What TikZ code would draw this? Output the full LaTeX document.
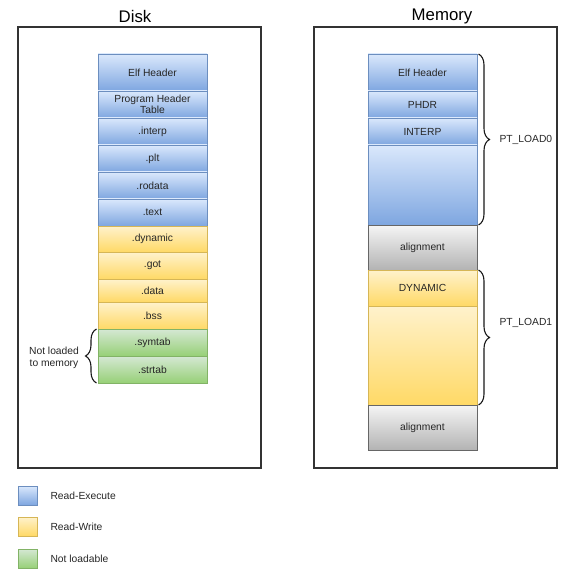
\documentclass[tikz,border=0pt]{standalone}
\usepackage{fontspec}
\setmainfont{Liberation Sans}
\usetikzlibrary{decorations.pathreplacing}
\definecolor{bluetop}{HTML}{DAE8FC}
\definecolor{bluebot}{HTML}{7EA6E0}
\definecolor{blueline}{HTML}{6C8EBF}
\definecolor{yeltop}{HTML}{FFF2CC}
\definecolor{yelbot}{HTML}{FFD966}
\definecolor{yelline}{HTML}{D6B656}
\definecolor{grntop}{HTML}{D5E8D4}
\definecolor{grnbot}{HTML}{97D077}
\definecolor{grnline}{HTML}{82B366}
\definecolor{graytop}{HTML}{F5F5F5}
\definecolor{graybot}{HTML}{B3B3B3}
\definecolor{grayline}{HTML}{666666}
\definecolor{frame}{HTML}{333333}
\begin{document}
\begin{tikzpicture}[x=1pt,y=-1pt,
  seg/.style={draw, line width=0.9pt, inner sep=0pt, outer sep=0pt, anchor=north west,
    minimum width=109pt, font=\fontsize{10.3}{11}\selectfont, align=center, text=black!85},
  rx/.style={seg, draw=blueline, top color=bluetop, bottom color=bluebot},
  rw/.style={seg, draw=yelline, top color=yeltop, bottom color=yelbot},
  nl/.style={seg, draw=grnline, top color=grntop, bottom color=grnbot},
  al/.style={seg, draw=grayline, top color=graytop, bottom color=graybot},
  outerbox/.style={draw=frame, line width=1.3pt, inner sep=0pt, outer sep=0pt, anchor=north west,
    minimum width=243pt, minimum height=441pt},
  title/.style={font=\fontsize{16.8}{19}\selectfont},
  lbl/.style={font=\fontsize{10.3}{12}\selectfont, text=black!85},
  brc/.style={decorate, decoration={brace, amplitude=11pt}, line width=1.1pt, draw=black!90},
  legsq/.style={draw, line width=0.9pt, inner sep=0pt, outer sep=0pt, anchor=north west,
    minimum width=19pt, minimum height=19pt}
]
\useasboundingbox (0,0) rectangle (580,577);

% titles and frames
\node[title] (tdisk) at (135,16) {Disk};
\node[title] (tmem) at (442,16) {Memory};
\node[outerbox] (diskbox) at (18,27) {};
\node[outerbox] (membox) at (314,27) {};

% disk segments
\node[rx, minimum height=37pt] (delf) at (98,54) {Elf Header};
\node[rx, minimum height=27pt] (dpht) at (98,91) {Program Header\\Table};
\node[rx, minimum height=27pt] (dinterp) at (98,118) {.interp};
\node[rx, minimum height=27pt] (dplt) at (98,145) {.plt};
\node[rx, minimum height=27pt] (drodata) at (98,172) {.rodata};
\node[rx, minimum height=27pt] (dtext) at (98,199) {.text};
\node[rw, minimum height=26pt] (ddyn) at (98,226) {.dynamic};
\node[rw, minimum height=27pt] (dgot) at (98,252) {.got};
\node[rw, minimum height=23pt] (ddata) at (98,279) {.data};
\node[rw, minimum height=27pt] (dbss) at (98,302) {.bss};
\node[nl, minimum height=27pt] (dsymtab) at (98,329) {.symtab};
\node[nl, minimum height=27pt] (dstrtab) at (98,356) {.strtab};

\draw[brc] ([xshift=-1.5pt]dstrtab.south west) -- ([xshift=-1.5pt]dsymtab.north west);
\node[lbl, align=center] (notloaded) at (54,358) {Not loaded\\to memory};

% memory segments
\node[rx, minimum height=37pt] (melf) at (368,54) {Elf Header};
\node[rx, minimum height=27pt] (mphdr) at (368,91) {PHDR};
\node[rx, minimum height=27pt] (minterp) at (368,118) {INTERP};
\node[rx, minimum height=80pt] (mrest0) at (368,145) {};
\node[al, minimum height=45pt] (malign0) at (368,225) {alignment};
\node[rw, minimum height=36pt] (mdyn) at (368,270) {DYNAMIC};
\node[rw, minimum height=99pt] (mrest1) at (368,306) {};
\node[al, minimum height=45pt] (malign1) at (368,405) {alignment};

\draw[brc] ([xshift=1.5pt]melf.north east) -- ([xshift=1.5pt]mrest0.south east);
\draw[brc] ([xshift=1.5pt]mdyn.north east) -- ([xshift=1.5pt]mrest1.south east);
\node[lbl, anchor=west] (pt0) at (496,140) {PT\_LOAD0};
\node[lbl, anchor=west] (pt1) at (496,323) {PT\_LOAD1};

% legend
\node[legsq, draw=blueline, top color=bluetop, bottom color=bluebot] (lgrx) at (18,486) {};
\node[legsq, draw=yelline, top color=yeltop, bottom color=yelbot] (lgrw) at (18,517) {};
\node[legsq, draw=grnline, top color=grntop, bottom color=grnbot] (lgnl) at (18,549) {};
\node[lbl, anchor=west] (lgrxt) at (47,495.5) {Read-Execute};
\node[lbl, anchor=west] (lgrwt) at (47,526.5) {Read-Write};
\node[lbl, anchor=west] (lgnlt) at (47,558.5) {Not loadable};
\end{tikzpicture}
\end{document}
